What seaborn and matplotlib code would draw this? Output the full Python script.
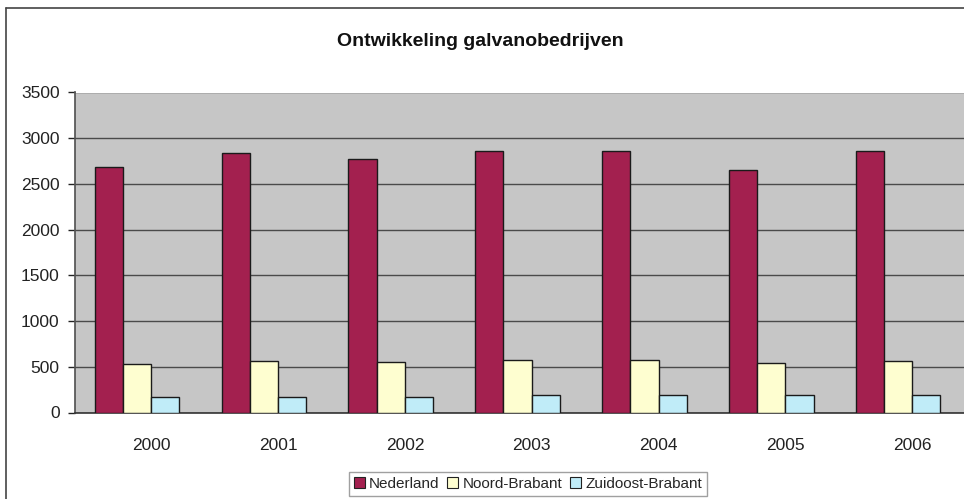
import numpy as np
import pandas as pd
import matplotlib
matplotlib.use("Agg")
import matplotlib.pyplot as plt
from matplotlib.patches import Patch
from matplotlib.lines import Line2D
import seaborn as sns

years = ["2000", "2001", "2002", "2003", "2004", "2005", "2006"]
nederland = [2690, 2840, 2770, 2865, 2855, 2655, 2865]
noord_brabant = [530, 560, 550, 575, 575, 540, 566]
zuidoost_brabant = [165, 170, 168, 188, 188, 186, 190]
series_names = ["Nederland", "Noord-Brabant", "Zuidoost-Brabant"]
series_colors = ["#a3204f", "#fefed0", "#c0ecf8"]
y_ticks = [0, 500, 1000, 1500, 2000, 2500, 3000, 3500]

df = pd.DataFrame({
    "jaar": years * 3,
    "reeks": np.repeat(series_names, len(years)),
    "aantal": nederland + noord_brabant + zuidoost_brabant,
})

sns.set_theme(style="white")
plt.rcParams["font.family"] = ["Liberation Sans", "DejaVu Sans"]

fig = plt.figure(figsize=(9.64, 4.99), dpi=100)
ax = fig.add_axes([75 / 964, 1 - 412.5 / 499, 1 - 75 / 964, 320 / 499])
ax.set_facecolor("#c6c6c6")

sns.barplot(data=df, x="jaar", y="aantal", hue="reeks", order=years,
            hue_order=series_names, palette=series_colors, width=0.667,
            edgecolor="#1a1a1a", linewidth=1.0, saturation=1.0,
            legend=False, ax=ax, zorder=3)

ax.set_ylim(0, 3500)
ax.set_xlim(-0.49, 6.52)
ax.set_yticks(y_ticks)
ax.set_yticklabels([str(t) for t in y_ticks], fontsize=12.5)
ax.yaxis.grid(True, color="#4a4a4a", linewidth=1.0, zorder=0)
ax.set_axisbelow(True)

# category labels sit at the right edge of the middle bar in each group
nb_bars = ax.containers[1]
tick_pos = [b.get_x() + b.get_width() for b in nb_bars]
ax.set_xticks(tick_pos)
ax.set_xticklabels(years, fontsize=12.5)
ax.tick_params(axis="x", length=0, pad=18, colors="#222222")
ax.tick_params(axis="y", length=5, width=1, direction="out", left=True,
               colors="#222222", pad=6)
ax.set_xlabel("")
ax.set_ylabel("")

for side in ["top", "right"]:
    ax.spines[side].set_visible(False)
ax.spines["left"].set_color("#555555")
ax.spines["bottom"].set_color("#333333")
ax.spines["bottom"].set_linewidth(1.2)

# chart area frame
fig.add_artist(Line2D([6 / 964, 6 / 964], [0, 1 - 8 / 499], color="#444444", lw=1.2))
fig.add_artist(Line2D([6 / 964, 1], [1 - 8 / 499, 1 - 8 / 499], color="#444444", lw=1.2))

fig.text(480 / 964, 1 - 41 / 499, "Ontwikkeling galvanobedrijven",
         ha="center", va="center", fontsize=14, fontweight="bold", color="#111111")

handles = [Patch(facecolor=c, edgecolor="#222222", linewidth=0.8) for c in series_colors]
leg = fig.legend(handles, series_names, loc="center", ncol=3,
                 bbox_to_anchor=(528 / 964, 1 - 484 / 499), fontsize=11,
                 frameon=True, fancybox=False, handlelength=0.7, handleheight=0.7,
                 handletextpad=0.3, columnspacing=0.5, borderpad=0.35)
leg.get_frame().set_edgecolor("#888888")
leg.get_frame().set_linewidth(1.0)

fig.savefig("out.png", dpi=100, facecolor="white")
